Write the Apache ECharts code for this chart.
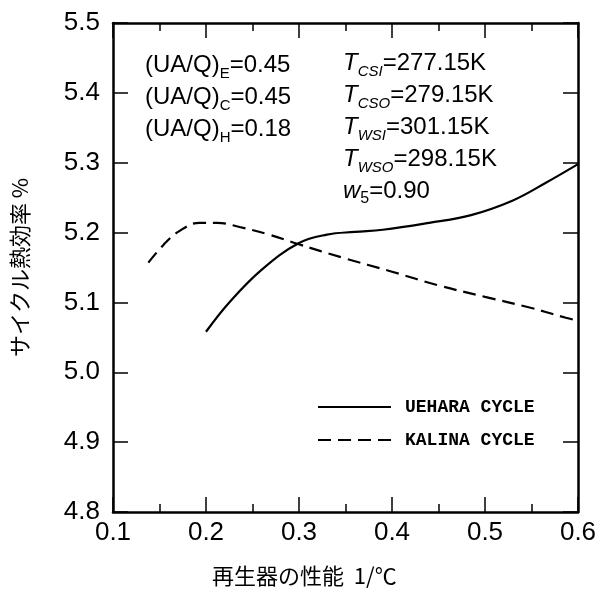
<!DOCTYPE html>
<html><head><meta charset="utf-8">
<script src="https://cdn.jsdelivr.net/npm/echarts@6/dist/echarts.min.js"></script>
<style>html,body{margin:0;padding:0;background:#fff}#c{width:605px;height:593px}</style>
</head><body><div id="c"></div>
<script>
// Data
const ueharaX = [0.20, 0.225, 0.26, 0.30, 0.33, 0.36, 0.39, 0.44, 0.485, 0.53, 0.565, 0.60];
const ueharaY = [5.058, 5.100, 5.147, 5.185, 5.197, 5.201, 5.204, 5.214, 5.225, 5.246, 5.271, 5.298];
const kalinaX = [0.138, 0.154, 0.170, 0.193, 0.212, 0.236, 0.268, 0.298, 0.347, 0.40, 0.451, 0.50, 0.55, 0.587, 0.60];
const kalinaY = [5.157, 5.182, 5.201, 5.214, 5.214, 5.208, 5.197, 5.184, 5.164, 5.144, 5.124, 5.108, 5.092, 5.078, 5.074];
const seriesNames = ['UEHARA CYCLE', 'KALINA CYCLE'];
const xTitle = '再生器の性能  1/℃';
const yTitle = 'サイクル熱効率 %';

const zip = (xs, ys) => xs.map((x, i) => [x, ys[i]]);
const chart = echarts.init(document.getElementById('c'), null, {renderer: 'canvas'});
const axisLine = {show: true, onZero: false, lineStyle: {color: '#000', width: 2.5}};
const sans = 'Liberation Sans';
chart.setOption({
  animation: false,
  backgroundColor: '#fff',
  grid: {left: 113, right: 27, top: 23, bottom: 81, containLabel: false},
  title: [
    {
      left: 145, top: 49, padding: 0,
      text: '(UA/Q){s|E}=0.45\n(UA/Q){s|C}=0.45\n(UA/Q){s|H}=0.18',
      textStyle: {fontFamily: sans, fontSize: 24, fontWeight: 'normal', color: '#000', lineHeight: 32,
        rich: {s: {fontFamily: sans, fontSize: 15, color: '#000', lineHeight: 14, verticalAlign: 'bottom'}}}
    },
    {
      left: 343, top: 47, padding: 0,
      text: '{t|T}{s|CSI}=277.15K\n{t|T}{s|CSO}=279.15K\n{t|T}{s|WSI}=301.15K\n{t|T}{s|WSO}=298.15K\n{t|w}{n|5}=0.90',
      textStyle: {fontFamily: sans, fontSize: 24, fontWeight: 'normal', color: '#000', lineHeight: 32,
        rich: {
          t: {fontFamily: sans, fontStyle: 'italic', fontSize: 24, color: '#000', lineHeight: 32},
          s: {fontFamily: sans, fontStyle: 'italic', fontSize: 15, color: '#000', lineHeight: 14, verticalAlign: 'bottom'},
          n: {fontFamily: sans, fontSize: 16, color: '#000', lineHeight: 14, verticalAlign: 'bottom'}
        }}
    }
  ],
  legend: {
    orient: 'vertical', left: 317, top: 398, padding: 0,
    itemWidth: 73, itemHeight: 14, itemGap: 15,
    data: seriesNames,
    itemStyle: {opacity: 0, borderWidth: 0},
    textStyle: {fontFamily: 'Liberation Mono', fontWeight: 'bold', fontSize: 18, color: '#000', padding: [0, 0, 0, 9]}
  },
  xAxis: [
    {
      type: 'value', min: 0.1, max: 0.6, interval: 0.1, position: 'bottom',
      axisLine: axisLine,
      axisTick: {show: true, inside: true, length: 15, lineStyle: {color: '#000', width: 1.5}},
      minorTick: {show: true, splitNumber: 2, length: 8, lineStyle: {color: '#000', width: 1.5}},
      splitLine: {show: false},
      axisLabel: {fontFamily: sans, fontSize: 26, color: '#000', margin: 8, formatter: v => v.toFixed(1)}
    },
    {
      type: 'value', min: 0.1, max: 0.6, interval: 0.1, position: 'top',
      axisLine: axisLine,
      axisTick: {show: true, inside: true, length: 15, lineStyle: {color: '#000', width: 1.5}},
      minorTick: {show: true, splitNumber: 2, length: 8, lineStyle: {color: '#000', width: 1.5}},
      splitLine: {show: false}, axisLabel: {show: false}
    }
  ],
  yAxis: [
    {
      type: 'value', min: 4.8, max: 5.5, interval: 0.1, position: 'left',
      axisLine: axisLine,
      axisTick: {show: true, inside: true, length: 15, lineStyle: {color: '#000', width: 1.5}},
      splitLine: {show: false},
      axisLabel: {fontFamily: sans, fontSize: 26, color: '#000', margin: 13, formatter: v => v.toFixed(1)},
      name: yTitle, nameLocation: 'middle', nameRotate: 90, nameGap: 82,
      nameTextStyle: {fontFamily: 'Noto Sans CJK JP', fontSize: 22, color: '#000'}
    },
    {
      type: 'value', min: 4.8, max: 5.5, interval: 0.1, position: 'right',
      axisLine: axisLine,
      axisTick: {show: true, inside: true, length: 15, lineStyle: {color: '#000', width: 1.5}},
      splitLine: {show: false}, axisLabel: {show: false}
    }
  ],
  graphic: [
    {type: 'text', left: 212, top: 565, style: {text: xTitle, font: '22px "Noto Sans CJK JP"', fill: '#000'}}
  ],
  series: [
    {
      name: seriesNames[0], type: 'line', xAxisIndex: 0, yAxisIndex: 0, smooth: 0.4,
      showSymbol: false, symbol: 'none',
      lineStyle: {color: '#000', width: 2.2, type: 'solid'},
      itemStyle: {color: '#000'},
      data: zip(ueharaX, ueharaY)
    },
    {
      name: seriesNames[1], type: 'line', xAxisIndex: 0, yAxisIndex: 0, smooth: 0.4,
      showSymbol: false, symbol: 'none',
      lineStyle: {color: '#000', width: 2.2, type: [13, 7]},
      itemStyle: {color: '#000'},
      data: zip(kalinaX, kalinaY)
    }
  ]
});
</script></body></html>
